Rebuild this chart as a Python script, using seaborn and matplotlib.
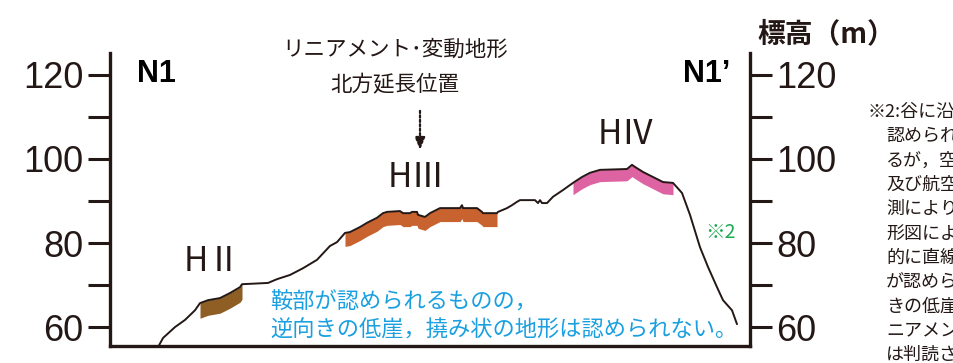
import numpy as np
import pandas as pd
import matplotlib
matplotlib.use("Agg")
import matplotlib.pyplot as plt
import seaborn as sns

# --- data: terrain profile N1 - N1' (distance along section, elevation in m) ---
distance = [48, 53, 65, 75, 85, 90, 98, 110, 120, 130, 132, 158, 167, 180, 193, 207,
            220, 227, 235, 240, 250, 257, 267, 273, 277, 290, 293, 300, 302, 307, 308,
            315, 320, 330, 350, 352, 353, 367, 372, 373, 387, 388, 397, 402, 407, 410,
            425, 428, 430, 432, 437, 443, 453, 463, 472, 480, 490, 517, 522, 525, 533,
            543, 553, 563, 572, 580, 590, 598, 607, 613, 622, 627]
elevation = [55.2, 57.4, 60.0, 61.7, 64.0, 65.7, 66.4, 66.9, 68.1, 69.5, 70.2, 70.5,
             71.4, 72.4, 74.0, 76.0, 79.3, 80.2, 82.4, 82.6, 83.8, 84.8, 86.0, 87.1,
             87.4, 87.6, 87.1, 87.1, 87.4, 87.4, 86.7, 86.2, 87.1, 88.3, 88.3, 89.0,
             88.3, 88.3, 87.4, 87.1, 87.1, 87.4, 88.3, 89.0, 89.8, 90.2, 90.2, 89.5,
             90.2, 89.5, 89.5, 91.0, 92.6, 94.3, 95.7, 96.7, 97.4, 97.6, 98.6, 98.1,
             96.9, 95.7, 94.5, 94.3, 91.9, 86.7, 79.0, 74.3, 69.5, 66.4, 64.0, 60.7]

# terrace surfaces: name, start, end, band depth, colour, label position
terrace_names = ["HⅡ", "HⅢ", "HⅣ"]
terrace_start = [90, 235, 463]
terrace_end = [132, 387, 563]
terrace_depth = [3.6, 3.2, 2.8]
terrace_colors = ["#8F5E24", "#C8622F", "#DE63A3"]
terrace_label_x = [102, 306, 516]
terrace_label_y = [75.5, 95.5, 105.7]

yticks_major = [60, 80, 100, 120]
yticks_minor = [70, 90, 110]

note_lines = ["※2:谷に沿って急崖が",
              "認められる箇所があ",
              "るが，空中写真判読",
              "及び航空レーザー計",
              "測により作成した地",
              "形図によると，連続",
              "的に直線状の急崖等",
              "が認められず，逆向",
              "きの低崖等によるリ",
              "ニアメント・変動地形",
              "は判読されない。"]

df = pd.DataFrame({"distance": distance, "elevation": elevation})

# --- plotting ---
sns.set_theme(style="white")
plt.rcParams["font.family"] = ["Noto Sans CJK JP", "DejaVu Sans"]

ink = "#231815"
fig = plt.figure(figsize=(9.54, 3.63), dpi=100)
ax = fig.add_axes([110 / 954, 17 / 363, 640 / 954, 293 / 363])

for i in range(len(terrace_names)):
    seg = df[(df["distance"] >= terrace_start[i]) & (df["distance"] <= terrace_end[i])]
    ax.fill_between(seg["distance"], seg["elevation"] - terrace_depth[i], seg["elevation"],
                    color=terrace_colors[i], lw=0, zorder=2)
    ax.text(terrace_label_x[i], terrace_label_y[i], terrace_names[i], fontsize=24,
            color=ink, ha="center", va="center")

sns.lineplot(data=df, x="distance", y="elevation", color=ink, lw=1.4, ax=ax,
             sort=False, zorder=3)

ax.set_xlim(0, 640)
ax.set_ylim(55.5, 125.2)
ax.set_xlabel("")
ax.set_ylabel("")
ax.set_xticks([])
ax.set_yticks(yticks_major)
ax.set_yticks(yticks_minor, minor=True)
ax.tick_params(axis="y", which="both", direction="out", length=16, width=2.2,
               color=ink, left=True, right=True, labelleft=True, labelright=True,
               pad=3, labelsize=26, labelcolor=ink)
for lab in ax.get_yticklabels():
    lab.set_family(["Liberation Sans Narrow", "Liberation Sans", "DejaVu Sans"])
for side in ["left", "right", "bottom"]:
    ax.spines[side].set_linewidth(2.4)
    ax.spines[side].set_color(ink)
ax.spines["top"].set_visible(False)

# section end labels
ax.text(27, 120.2, "N1", fontsize=22, fontweight="bold", ha="left", va="center",
        family=["Liberation Sans", "DejaVu Sans"], color="black")
ax.text(620, 120.2, "N1’", fontsize=22, fontweight="bold", ha="right", va="center",
        family=["Liberation Sans", "DejaVu Sans"], color="black")

# lineament extension marker
ax.text(285, 126.0, "リニアメント･変動地形", fontsize=15.5, ha="center", va="center",
        color=ink, clip_on=False)
ax.text(285, 117.4, "北方延長位置", fontsize=15.5, ha="center", va="center", color=ink)
ax.annotate("", xy=(310, 101.5), xytext=(310, 112.1),
            arrowprops=dict(arrowstyle="-|>,head_length=0.6,head_width=0.25",
                            linestyle=(0, (1, 1)), lw=1.6, color=ink))

ax.text(610, 82.6, "※2", fontsize=14, color="#1DAA50", ha="center", va="center")

ax.text(160, 66.0, "鞍部が認められるものの，", fontsize=16, color="#1AA0E0",
        ha="left", va="center")
ax.text(160, 59.3, "逆向きの低崖，撓み状の地形は認められない。", fontsize=16,
        color="#1AA0E0", ha="left", va="center")

fig.text(757 / 954, 1 - 34 / 363, "標高（m）", fontsize=20, fontweight="bold",
         ha="left", va="center", color=ink)

# side note (cut by the figure edge as in the source)
for k, line in enumerate(note_lines):
    x0 = 868 if k == 0 else 886
    fig.text(x0 / 954, 1 - (112 + 24.3 * k) / 363, line, fontsize=13, ha="left",
             va="center", color=ink)

fig.savefig("out.png", dpi=100)
